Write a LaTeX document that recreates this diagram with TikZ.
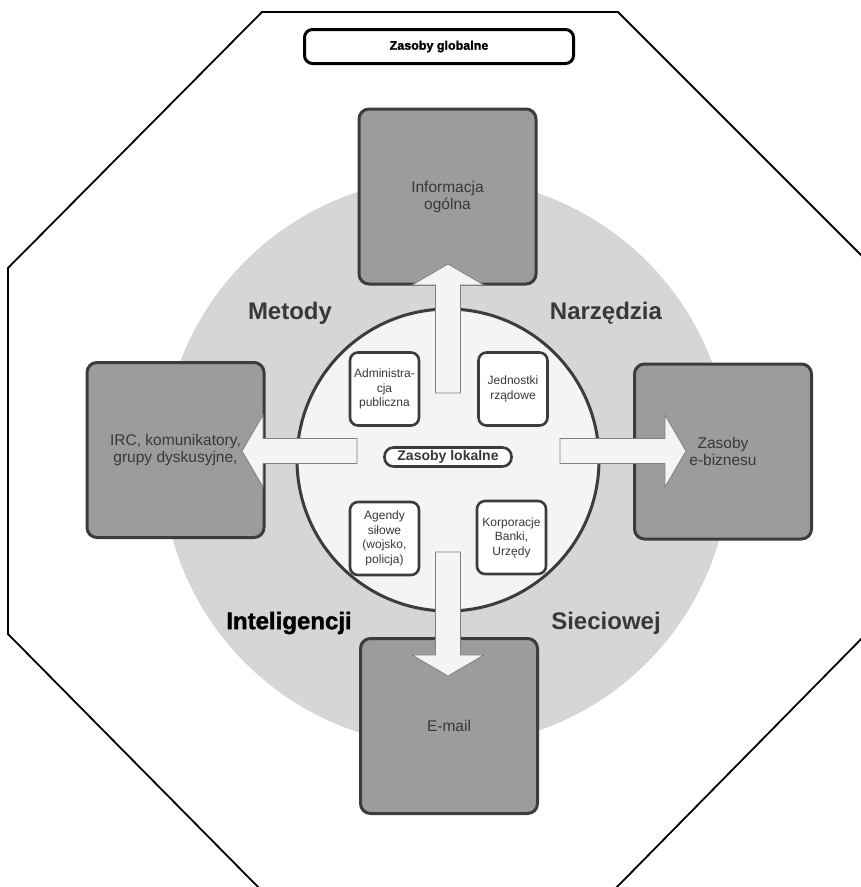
\documentclass[tikz,border=0pt]{standalone}
\usepackage{fontspec}
\setmainfont{Liberation Sans}
\newfontfamily\ciezki[FakeBold=1.5]{Liberation Sans Bold}
\definecolor{ramka}{HTML}{3C3C3C}
\definecolor{kolo}{HTML}{D6D6D6}
\definecolor{ciemny}{HTML}{9C9C9C}
\definecolor{jasny}{HTML}{F4F4F4}
\definecolor{napis}{HTML}{383838}
\tikzset{
  duzy/.style={draw=ramka, line width=3pt, fill=ciemny, rounded corners=10pt,
    minimum width=177pt, minimum height=175pt, align=center, text=napis,
    font=\fontsize{15.5}{17}\selectfont},
  maly/.style={draw=ramka, line width=2.6pt, fill=white, rounded corners=8pt,
    minimum width=69pt, minimum height=73pt, align=center, text=napis, inner sep=1pt,
    font=\fontsize{12}{14.5}\selectfont},
  strzala/.style={draw=gray, line width=0.8pt, fill=jasny},
  haslo/.style={font=\fontsize{24}{28}\selectfont\bfseries, text=napis}
}
\begin{document}
\begin{tikzpicture}[x=1pt,y=-1pt]
\useasboundingbox (0,0) rectangle (861,887);
\clip (0,0) rectangle (861,887);
%\draw[step=50,gray,very thin] (0,0) grid (861,887);
\draw[line width=1.8pt] (262,12) -- (618,12) -- (872,266) -- (872,628) -- (615,889) -- (260,889) -- (8,634) -- (8,268) -- cycle;
\node[draw=black, line width=3pt, rounded corners=8pt, minimum width=269pt, minimum height=34pt,
  font=\fontsize{12.5}{14}\ciezki] (globalne) at (439,46.5) {Zasoby globalne};
% duze kolo
\fill[kolo] (446,462) circle (284);
% zasoby
\node[duzy] (info) at (447.5,196.5) {Informacja\\og\'olna};
\node[duzy] (irc) at (175.5,450) {IRC, komunikatory,\\grupy dyskusyjne,};
\node[duzy] (biznes) at (723,451.5) {Zasoby\\e-biznesu};
\node[duzy] (email) at (449,726) {E-mail};
% kolo wewnetrzne
\draw[draw=ramka, line width=3pt, fill=jasny] (448,460) circle (151);
% strzalki
\foreach \x/\y/\kat/\dl in {448/393/90/129, 448/552/270/124, 357/451/180/115, 560/451/0/126}
{
  \begin{scope}[shift={(\x,\y)}, rotate=\kat]
    \draw[strzala] (0,-12.5) -- (\dl-21,-12.5) -- (\dl-21,-36) -- (\dl,0) -- (\dl-21,36) -- (\dl-21,12.5) -- (0,12.5) -- cycle;
  \end{scope}
}
% zasoby lokalne
\node[maly] (admin) at (384.5,389) {Administra-\\cja\\publiczna};
\node[maly] (jednostki) at (513,389) {Jednostki\\rządowe};
\node[maly] (agendy) at (384.5,538.5) {Agendy\\siłowe\\(wojsko,\\policja)};
\node[maly] (korp) at (511.5,537.5) {Korporacje\\Banki,\\Urzędy};
\node[draw=ramka, line width=2.6pt, fill=white, rounded corners=9pt, minimum width=127pt,
  minimum height=19pt, inner sep=0pt, text=napis, font=\fontsize{14}{16}\selectfont\bfseries]
  (lokalne) at (448,457) {Zasoby lokalne};
% hasla
\node[haslo] (metody) at (290,313) {Metody};
\node[haslo] (narzedzia) at (606,313) {Narzędzia};
\node[haslo, text=black, font=\fontsize{24}{28}\ciezki] (intel) at (289,623) {Inteligencji};
\node[haslo] (sieciowej) at (606,623) {Sieciowej};
\end{tikzpicture}
\end{document}
